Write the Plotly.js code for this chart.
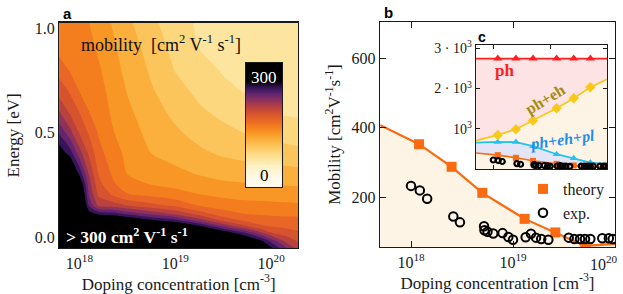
<!DOCTYPE html>
<html><head><meta charset="utf-8">
<script src="https://cdn.plot.ly/plotly-3.0.1.min.js"></script>
<style>html,body{margin:0;padding:0;background:#fff}#chart{width:623px;height:294px}</style>
</head><body><div id="chart"></div>
<script>
// ---------- Panel a: mobility map (doping x energy) ----------
const dopingGrid = [5.5e17, 7.95e17, 1e18, 1.26e18, 1.58e18, 2.24e18, 3.16e18, 5.62e18, 1e19, 1.78e19, 3.16e19, 5.62e19, 7.94e19, 1e20, 1.41e20, 2e20];
const energyGrid = [-0.06, -0.02, 0.02, 0.05, 0.08, 0.11, 0.15, 0.2, 0.25, 0.3, 0.4, 0.5, 0.6, 0.7, 0.8, 0.9, 1.03];
const mobilityGrid = [
  [370, 360, 360, 350, 355, 350, 345, 340, 340, 335, 340, 325, 310, 290, 250, 212],
  [370, 360, 360, 350, 355, 350, 345, 340, 340, 335, 325, 315, 283, 254, 215, 195],
  [370, 360, 360, 350, 350, 350, 345, 340, 335, 320, 297, 256, 222, 200, 190, 182],
  [370, 360, 360, 340, 340, 335, 330, 320, 315, 286, 240, 202, 183, 179, 176, 172],
  [370, 360, 360, 320, 320, 315, 305, 283, 266, 230, 194, 174, 170, 168, 166, 166],
  [370, 360, 360, 293, 276, 270, 255, 235, 216, 192, 169, 159, 158, 157, 156, 156],
  [370, 360, 345, 257, 215, 211, 200, 187, 176, 159, 151, 147, 146, 145, 144, 143],
  [370, 360, 330, 239, 197, 178, 162, 156, 149, 141, 136, 133, 132, 132, 131, 130],
  [360, 345, 310, 229, 187, 163, 150, 140, 135, 129, 124, 122, 121, 120, 119, 118],
  [343, 330, 276, 219, 179, 157, 140, 133, 125, 119, 114, 111, 110, 109, 108, 107],
  [307, 271, 229, 196, 167, 149, 135, 120, 113, 104, 97, 93, 91, 90, 88, 85],
  [270, 227, 198, 177, 158, 141, 129, 114, 103, 93, 85, 79, 75, 74, 71, 69],
  [231, 196, 179, 160, 153, 136, 124, 108, 95, 83, 75, 67, 63, 60, 57, 56],
  [200, 177, 159, 155, 148, 132, 119, 102, 87, 75, 65, 58, 55, 54, 52, 51],
  [177, 158, 155, 150, 143, 127, 115, 97, 79, 68, 58, 54, 51, 50, 48, 47],
  [159, 153, 150, 146, 137, 123, 111, 92, 74, 60, 55, 50, 48, 47, 46, 45],
  [154, 148, 145, 140, 132, 118, 104, 85, 68, 57, 52, 47, 46, 45, 45, 44]
];
const colorbarLevels = [-40, 0, 40, 80, 120, 160, 200, 240, 280, 320, 360];

// ---------- Panel b / c: mobility vs doping ----------
const curveDoping = [5e17, 1.2e18, 2.5e18, 5e18, 1.3e19, 2.6e19, 5.1e19, 1e20];
const theoryCurve = [407, 352, 287, 212, 137, 98, 59, 65];
const phCurve = [2740, 2740, 2740, 2740, 2740, 2740, 2740, 2740];
const phEhCurve = [711, 852, 993, 1205, 1511, 1758, 2030, 2227];
const phEhPlCurve = [660, 680, 675, 575, 375, 275, 170, 130];
const expDoping = [1.0e18, 1.22e18, 1.44e18, 2.6e18, 3.02e18, 5.2e18, 5.25e18, 5.62e18, 6.4e18, 7.9e18, 9.0e18, 1.0e19, 1.33e19, 1.5e19, 1.68e19, 1.89e19, 2.22e19, 3.52e19, 4.0e19, 4.54e19, 5.08e19, 5.73e19, 7.5e19, 8.7e19, 9.5e19];
const expMobility = [232, 219, 195, 144, 127, 116, 104, 100, 95, 96, 85, 77, 84, 94, 83, 79, 77, 83, 79, 79, 79, 79, 81, 81, 79];
const dopingTicks = [1e18, 1e19, 1e20];
const dopingTickText = ['10<sup>18</sup>', '10<sup>19</sup>', '10<sup>20</sup>'];

// ---------- styling ----------
const W = 623, H = 294;
const px = v => v / W, py = v => 1 - v / H;
const serif = 'Liberation Serif, Times New Roman, serif';
const sans = 'Liberation Sans, Arial, sans-serif';
const ink = '#1a1a1a';
const orange = '#fa6a10', cream = '#fef4e6';
const cscale = [[0,'#fffaea'],[0.0625,'#fff5d6'],[0.125,'#fef0c2'],[0.1875,'#fde5a0'],[0.25,'#fdd77e'],[0.3125,'#fcc55c'],[0.375,'#fbb03d'],[0.4375,'#f99726'],[0.5,'#f47d1e'],[0.5625,'#e96626'],[0.625,'#d6532e'],[0.6875,'#b9423f'],[0.75,'#8f325a'],[0.8125,'#642470'],[0.875,'#351457'],[0.9375,'#000000'],[1,'#000000']];
const mid = a => a.slice(1, a.length - 1);

const traces = [
  {type:'contour', x: dopingGrid, y: energyGrid, z: mobilityGrid, xaxis:'x', yaxis:'y',
   colorscale: cscale, autocontour:false, contours:{start:0, end:300, size:20, coloring:'fill', showlines:false},
   line:{width:0, smoothing:0.7}, showscale:false, hoverinfo:'skip'},
  {type:'heatmap', x:[-1, 1], y: colorbarLevels, z: colorbarLevels.map(v => [v, v]), xaxis:'x4', yaxis:'y4',
   colorscale: cscale, zmin:-10, zmax:310, zsmooth:'best', showscale:false, hoverinfo:'skip'},
  // panel b
  {type:'scatter', mode:'lines', x: curveDoping, y: theoryCurve, xaxis:'x2', yaxis:'y2',
   line:{color:orange, width:2.2}, fill:'tozeroy', fillcolor:cream, showlegend:false},
  {type:'scatter', mode:'markers', x: mid(curveDoping), y: mid(theoryCurve), xaxis:'x2', yaxis:'y2', name:'theory',
   marker:{symbol:'square', size:10, color:orange}},
  {type:'scatter', mode:'markers', x: expDoping, y: expMobility, xaxis:'x2', yaxis:'y2', name:'exp.',
   marker:{symbol:'circle-open', size:8.5, color:'#000', line:{width:2, color:'#000'}}},
  // inset c
  {type:'scatter', mode:'lines', x: curveDoping, y: theoryCurve, xaxis:'x3', yaxis:'y3',
   line:{color:orange, width:1.6}, fill:'tozeroy', fillcolor:cream, showlegend:false},
  {type:'scatter', mode:'lines', x: curveDoping, y: phEhPlCurve, xaxis:'x3', yaxis:'y3',
   line:{color:'#22c3f0', width:1.8}, fill:'tonexty', fillcolor:'#e4e4f7', showlegend:false},
  {type:'scatter', mode:'lines', x: curveDoping, y: phEhCurve, xaxis:'x3', yaxis:'y3',
   line:{color:'#f8c81a', width:1.8}, fill:'tonexty', fillcolor:cream, showlegend:false},
  {type:'scatter', mode:'lines', x: curveDoping, y: phCurve, xaxis:'x3', yaxis:'y3',
   line:{color:'#ff1f1f', width:1.8}, fill:'tonexty', fillcolor:'#fde3e3', showlegend:false},
  {type:'scatter', mode:'markers', x: mid(curveDoping), y: mid(theoryCurve), xaxis:'x3', yaxis:'y3', showlegend:false,
   marker:{symbol:'square', size:6, color:orange}},
  {type:'scatter', mode:'markers', x: mid(curveDoping), y: mid(phEhPlCurve), xaxis:'x3', yaxis:'y3', showlegend:false,
   marker:{symbol:'triangle-up', size:7, color:'#22c3f0'}},
  {type:'scatter', mode:'markers', x: mid(curveDoping), y: mid(phEhCurve), xaxis:'x3', yaxis:'y3', showlegend:false,
   marker:{symbol:'diamond', size:8, color:'#f8c81a'}},
  {type:'scatter', mode:'markers', x: mid(curveDoping), y: mid(phCurve), xaxis:'x3', yaxis:'y3', showlegend:false,
   marker:{symbol:'triangle-up', size:8, color:'#ff1f1f'}},
  {type:'scatter', mode:'markers', x: expDoping, y: expMobility, xaxis:'x3', yaxis:'y3', showlegend:false,
   marker:{symbol:'circle-open', size:5, color:'#000', line:{width:2.2, color:'#000'}}}
];

const tf = {family: serif, size: 16, color: ink};
const frame = {showline:true, mirror:true, linecolor:ink, linewidth:1.3, showgrid:false, zeroline:false};
const ann = (text, x, y, size, color, extra) => Object.assign({text, x:px(x), y:py(y), xref:'paper', yref:'paper',
  xanchor:'center', yanchor:'middle', showarrow:false, font:{family: serif, size, color}}, extra || {});
const layout = {
  width: W, height: H, margin:{l:0, r:0, t:0, b:0},
  paper_bgcolor:'#fff', plot_bgcolor:'#fff', showlegend:true,
  font:{family: serif, color: ink},
  xaxis: Object.assign({}, frame, {domain:[px(59.3), px(298)], anchor:'y', type:'log', range:[17.79, 20.28],
    tickvals: dopingTicks, ticktext: dopingTickText, ticks:'', tickfont: tf,
    title:{text:'Doping concentration [cm<sup>-3</sup>]', font:{family: serif, size:17, color: ink}, standoff:4}}),
  yaxis: Object.assign({}, frame, {domain:[py(248), py(22.7)], anchor:'x', range:[-0.053, 1.025],
    tickvals:[0, 0.5, 1], ticktext:['0.0','0.5','1.0'], ticks:'', tickfont: tf,
    title:{text:'Energy [eV]', font:{family: serif, size:17, color: ink}, standoff:10}}),
  xaxis2: Object.assign({}, frame, {domain:[px(380), px(615)], anchor:'y2', type:'log', range:[17.696, 20.0],
    tickvals: dopingTicks, ticktext:['10<sup>18</sup>', '10<sup>19</sup>', ''], ticks:'inside', ticklen:6, tickcolor: ink, mirror:'ticks', tickfont: tf,
    title:{text:'Doping concentration [cm<sup>-3</sup>]', font:{family: serif, size:17, color: ink}, standoff:4}}),
  yaxis2: Object.assign({}, frame, {domain:[py(247), py(22)], anchor:'x2', range:[56, 704],
    tickvals:[200, 400, 600], ticks:'inside', ticklen:6, tickcolor: ink, mirror:'ticks', tickfont: tf,
    title:{text:'Mobility [cm<sup>2</sup>V<sup>-1</sup>s<sup>-1</sup>]', font:{family: serif, size:17, color: ink}, standoff:6}}),
  xaxis3: Object.assign({}, frame, {domain:[px(476), px(607)], anchor:'y3', type:'log', range:[17.696, 20.0],
    tickvals:[1e18, 1e19], ticks:'inside', ticklen:4, tickcolor: ink, mirror:'ticks', showticklabels:false}),
  yaxis3: Object.assign({}, frame, {domain:[py(169), py(45)], anchor:'x3', range:[10, 3075],
    tickvals:[1000, 2000, 3000], ticktext:['10<sup>3</sup>', '2 · 10<sup>3</sup>', '3 · 10<sup>3</sup>'],
    ticks:'inside', ticklen:4, tickcolor: ink, mirror:'ticks', tickfont:{family: serif, size:14, color: ink}}),
  xaxis4: Object.assign({}, frame, {domain:[px(246), px(282)], anchor:'y4', range:[-0.5, 0.5], showticklabels:false, ticks:''}),
  yaxis4: Object.assign({}, frame, {domain:[py(187), py(63)], anchor:'x4', range:[-37, 346], showticklabels:false, ticks:''}),
  legend:{x: px(523), y: py(172), xanchor:'left', yanchor:'top', traceorder:'normal', bgcolor:'rgba(0,0,0,0)', font:{family: serif, size:16, color: ink}, itemwidth:30, tracegroupgap:0},
  annotations: [
    {text:'<b>a</b>', x:px(61), y:py(13), xref:'paper', yref:'paper', xanchor:'left', yanchor:'middle', showarrow:false, font:{family: sans, size:15, color:'#000'}},
    {text:'<b>b</b>', x:px(382), y:py(12), xref:'paper', yref:'paper', xanchor:'left', yanchor:'middle', showarrow:false, font:{family: sans, size:15, color:'#000'}},
    {text:'<b>c</b>', x:px(476), y:py(37), xref:'paper', yref:'paper', xanchor:'left', yanchor:'middle', showarrow:false, font:{family: sans, size:14, color:'#000'}},
    ann('mobility  [cm<sup>2</sup> V<sup>-1</sup> s<sup>-1</sup>]', 161, 43, 18, '#111'),
    ann('<b>&gt; 300 cm<sup>2</sup> V<sup>-1</sup> s<sup>-1</sup></b>', 127, 236, 17.5, '#fff'),
    {text:'300', x:0, y:300, xref:'x4', yref:'y4', xanchor:'center', yanchor:'middle', showarrow:false, font:{family: serif, size:17, color:'#fff'}},
    {text:'0', x:0, y:0, xref:'x4', yref:'y4', xanchor:'center', yanchor:'middle', showarrow:false, font:{family: serif, size:17, color:'#000'}},
    ann('<b>ph</b>', 504, 71, 17, '#ff1f1f'),
    ann('<b>ph+eh</b>', 545, 100, 16, '#a38b12', {textangle:-31}),
    ann('<b><i>ph+eh+pl</i></b>', 562, 140, 16, '#1e8fe6', {textangle:-8}),
    ann('10<sup>20</sup>', 604, 263, 16, ink)
  ]
};
Plotly.newPlot('chart', traces, layout, {staticPlot:true, displayModeBar:false});
</script></body></html>
